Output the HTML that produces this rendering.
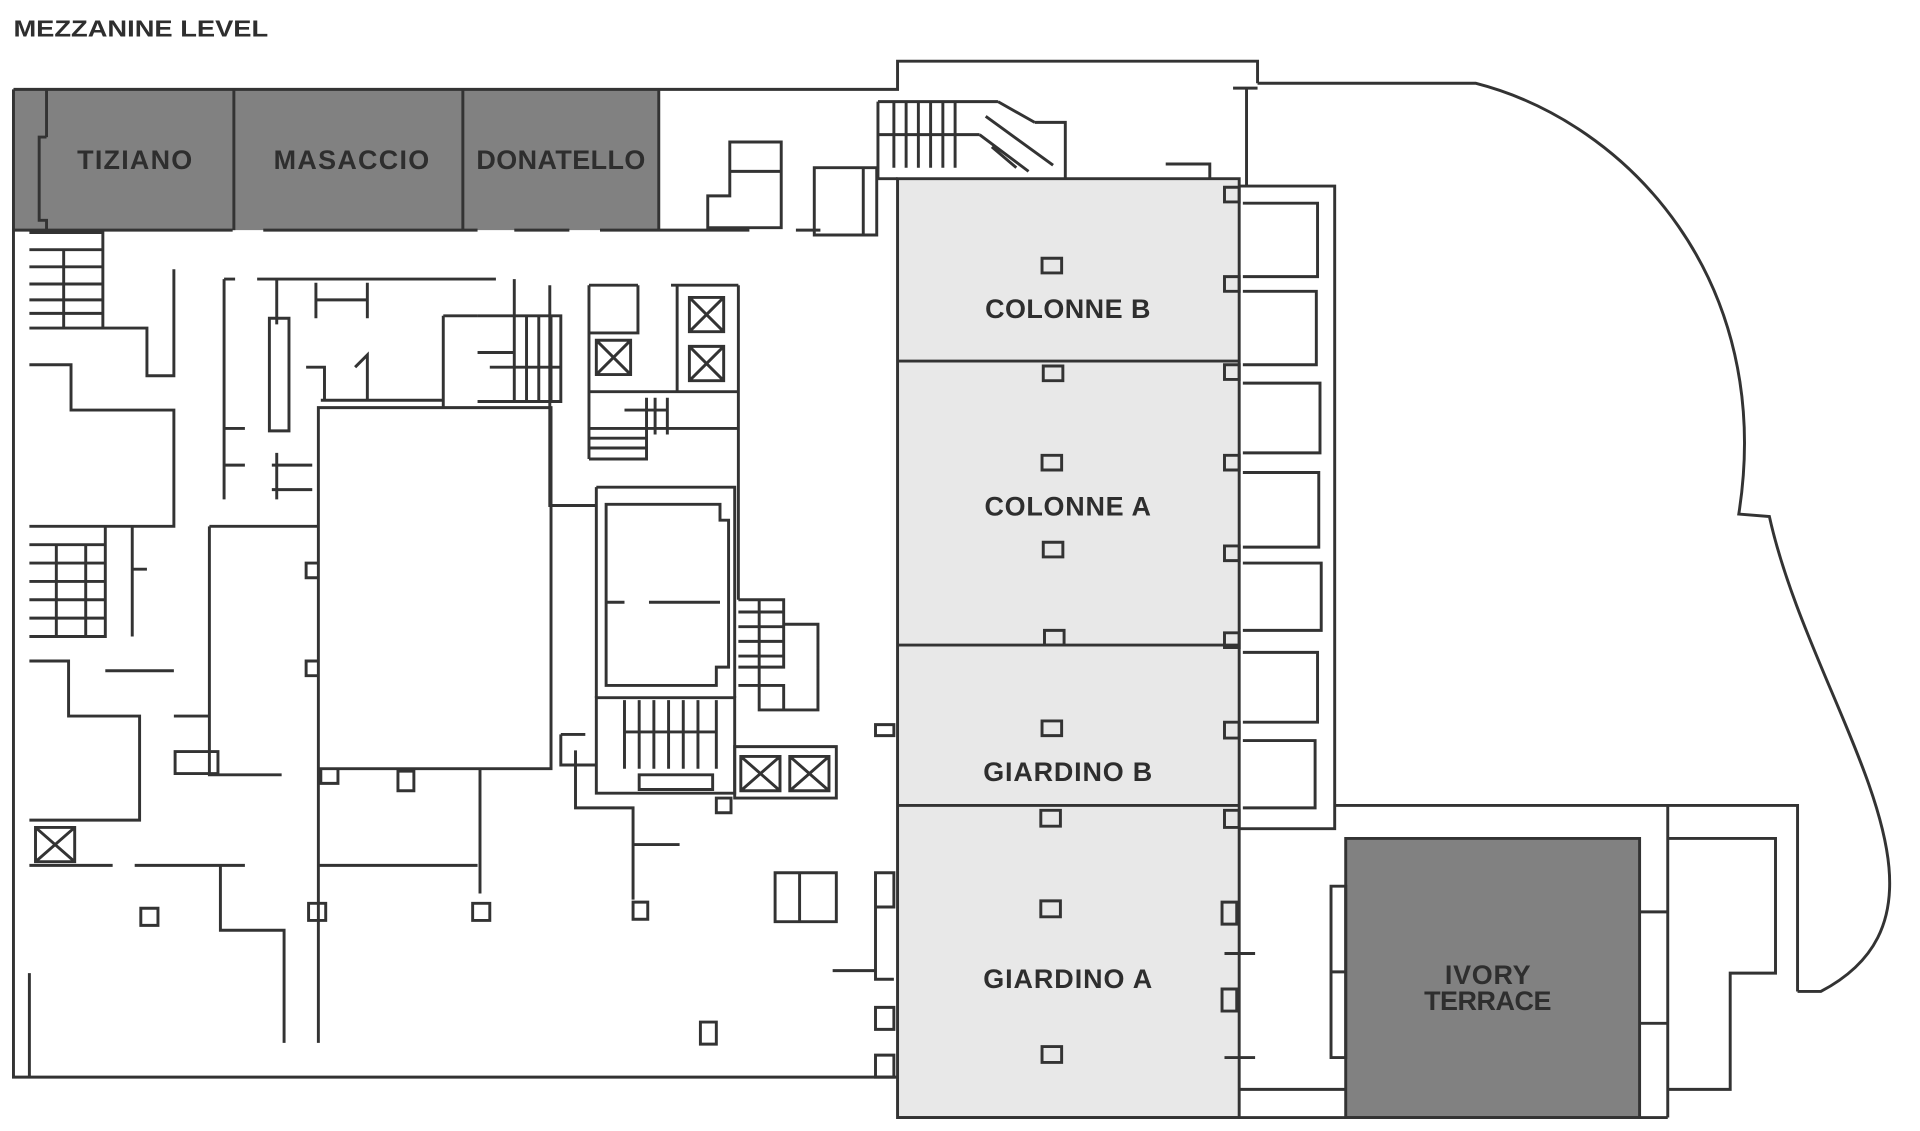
<!DOCTYPE html>
<html><head><meta charset="utf-8"><style>
html,body{margin:0;padding:0;background:#fff;width:1920px;height:1131px;overflow:hidden}
svg{display:block}
text{font-family:"Liberation Sans",sans-serif;font-weight:bold;fill:#2e2e2e}
</style></head><body>
<svg width="1920" height="1131" viewBox="0 0 1568 924" preserveAspectRatio="none">
<text x="11" y="30" font-size="19" textLength="208" lengthAdjust="spacingAndGlyphs">MEZZANINE LEVEL</text>
<rect x="11" y="73" width="527" height="115" fill="#818181"/>
<rect x="733" y="146" width="279" height="767" fill="#e8e8e8"/>
<rect x="1099" y="685" width="240" height="228" fill="#818181"/>
<g fill="none" stroke="#333" stroke-width="2.4">
<path d="M11,73 H733 V50 H1027 V68 M1007,72 H1027 M1018,72 V152"/>
<path d="M11,73 V880 H733"/>
<path d="M38,73 V112 M38,112 H32 V180 H38 V188 M191,73 V188 M378,73 V188 M538,73 V188"/>
<path d="M11,188 H190 M215,188 H390 M420,188 H465 M490,188 H612 M650,188 H670"/>
<path d="M1027,68 L1205,68 C1330,100 1450,230 1420,420 L1445,422 C1480,580 1620,740 1487,810 L1468,810"/>
<path d="M733,146 H1012 V913 H733 Z M733,295 H1012 M733,527 H1012 M733,658 H1012"/>
<path d="M1012,152 H1090 V677 H1012"/>
<path d="M1015,166 H1076 V226 H1015 M1015,238 H1075 V298 H1015 M1015,313 H1078 V370 H1015 M1015,386 H1077 V447 H1015 M1015,460 H1079 V515 H1015 M1015,533 H1076 V590 H1015 M1015,605 H1074 V660 H1015"/>
<path d="M1000,153 h12 v12 h-12 Z M1000,226 h12 v12 h-12 Z M1000,298 h12 v12 h-12 Z M1000,372 h12 v12 h-12 Z M1000,446 h12 v12 h-12 Z M1000,517 h12 v12 h-12 Z M1000,590 h12 v13 h-12 Z M1000,662 h12 v14 h-12 Z M998,737 h12 v18 h-12 Z M998,808 h12 v18 h-12 Z M1000,779 H1025 M1000,864 H1025"/>
<path d="M851,211 h16 v12 h-16 Z M852,299 h16 v12 h-16 Z M851,372 h16 v12 h-16 Z M852,443 h16 v12 h-16 Z M853,515 h16 v12 h-16 Z M851,589 h16 v12 h-16 Z M850,662 h16 v13 h-16 Z M850,736 h16 v13 h-16 Z M851,855 h16 v13 h-16 Z"/>
<path d="M1090,658 H1468 V810 M733,913 H1362 M1012,890 H1099 M1087,724 H1099 V864 H1087 Z M1087,794 H1099"/>
<path d="M1099,685 H1339 V913 H1099 Z M1362,658 V913 M1362,685 H1450 V795 H1413 V890 H1362 M1339,745 H1362 M1339,836 H1362"/>
<path d="M596,116 H638 V186 H578 V160 H596 Z M596,140 H638 M665,137 H716 V192 H665 Z M705,137 V192 M717,83 V146 H733 M952,134 H988 V146"/>
<path d="M717,83 H815 M730,83 V137 M740,83 V137 M750,83 V137 M760,83 V137 M770,83 V137 M780,83 V137 M717,110 H800 M815,83 L845,100 M805,95 L860,135 M800,110 L840,140 M810,120 L830,137 M845,100 H870 V145"/>
<path d="M24,190 H84 V268 H24 M24,204 H84 M24,218 H84 M24,232 H84 M24,245 H84 M24,256 H84 M52,204 V268 M84,268 H120 V307 H142 V220"/>
<path d="M24,298 H58 V335 H142 V430 H24 M24,430 H86 V520 H24 M24,445 H86 M24,460 H86 M24,475 H86 M24,490 H86 M24,505 H86 M46,445 V520 M70,445 V520 M108,430 V520 M108,465 H120 M86,548 H142"/>
<path d="M24,540 H56 V585 H114 V670 H24 M29,676 h32 v28 h-32 Z M29,676 l32,28 M61,676 l-32,28"/>
<path d="M171,430 H260 M171,430 V633 H230 M142,585 H171 M143,614 h35 v18 h-35 Z M110,707 H200 M180,707 V760 H232 V852 M24,707 H92 M115,742 h14 v14 h-14 Z M24,795 V880"/>
<path d="M183,228 H192 M183,228 V408 M183,350 H200 M183,380 H200 M222,380 H255 M222,400 H255 M226,370 V408 M210,228 H405 M226,228 V265 M258,231 V260 M300,231 V260 M258,245 H300 M220,260 H236 V352 H220 Z M250,300 H265 V327 M290,300 L300,290 V327 M262,327 H362 M362,258 V333 M362,258 H390 M420,228 V258"/>
<path d="M390,258 H458 V328 H390 M420,258 V328 M430,258 V328 M440,258 V328 M450,258 V328 M390,288 H420 M400,300 H458 V328"/>
<path d="M260,333 H450 V628 H260 Z M250,460 h10 v12 h-10 Z M250,540 h10 v12 h-10 Z M260,628 V707 H390 M392,628 V730 M262,628 h14 v12 h-14 Z M325,630 h13 v16 h-13 Z M252,738 h14 v14 h-14 Z M386,738 h14 v14 h-14 Z M517,737 h12 v14 h-12 Z M260,707 V852"/>
<path d="M481,233 H521 M548,233 H603 M449,233 V413 H487 M481,233 V375 M481,272 H521 V233 M481,320 H553 V233 M553,320 H603 M603,233 V490"/>
<path d="M563,243 h28 v28 h-28 Z M563,243 l28,28 M591,243 l-28,28 M563,283 h28 v28 h-28 Z M563,283 l28,28 M591,283 l-28,28 M487,278 h28 v28 h-28 Z M487,278 l28,28 M515,278 l-28,28"/>
<path d="M481,350 H603 M481,375 H528 V325 M481,358 H528 M481,366 H528 M510,335 H545 V325 V355 M535,325 V355"/>
<path d="M487,398 H600 V570 M487,398 V570 M495,412 H588 V425 H595 V545 H585 V560 H495 Z M495,492 H510 M530,492 H588"/>
<path d="M603,490 H640 V545 H603 M603,500 H640 M603,512 H640 M603,524 H640 M603,536 H640 M620,490 V545 M640,510 H668 V580 H620 V545 M603,560 H640 V580"/>
<path d="M487,570 H600 V648 H487 Z M510,572 V628 M522,572 V628 M534,572 V628 M546,572 V628 M558,572 V628 M570,572 V628 M585,572 V628 M510,598 H585 M522,633 h60 v12 h-60 Z"/>
<path d="M600,610 H683 V652 H600 Z M605,618 h32 v28 h-32 Z M605,618 l32,28 M637,618 l-32,28 M645,618 h32 v28 h-32 Z M645,618 l32,28 M677,618 l-32,28 M585,652 h12 v12 h-12 Z"/>
<path d="M458,600 V625 H487 M470,613 V660 H517 V690 H555 M517,690 V735 M458,600 H478"/>
<path d="M633,713 h50 v40 h-50 Z M653,713 V753 M715,592 h15 v9 h-15 Z M715,713 h15 v28 h-15 Z M715,741 V800 H730 M680,793 H715 M715,823 h15 v18 h-15 Z M715,862 h15 v18 h-15 Z M572,835 h13 v18 h-13 Z"/>
</g>
<g font-size="22" text-anchor="middle" lengthAdjust="spacingAndGlyphs">
<text x="110" y="138" textLength="94">TIZIANO</text>
<text x="287" y="138" textLength="127">MASACCIO</text>
<text x="458" y="138" textLength="138">DONATELLO</text>
<text x="872" y="260" textLength="135">COLONNE B</text>
<text x="872" y="421" textLength="136">COLONNE A</text>
<text x="872" y="638" textLength="138">GIARDINO B</text>
<text x="872" y="807" textLength="138">GIARDINO A</text>
<text x="1215" y="804" textLength="70">IVORY</text>
<text x="1215" y="825" textLength="104">TERRACE</text>
</g>
</svg>
</body></html>
